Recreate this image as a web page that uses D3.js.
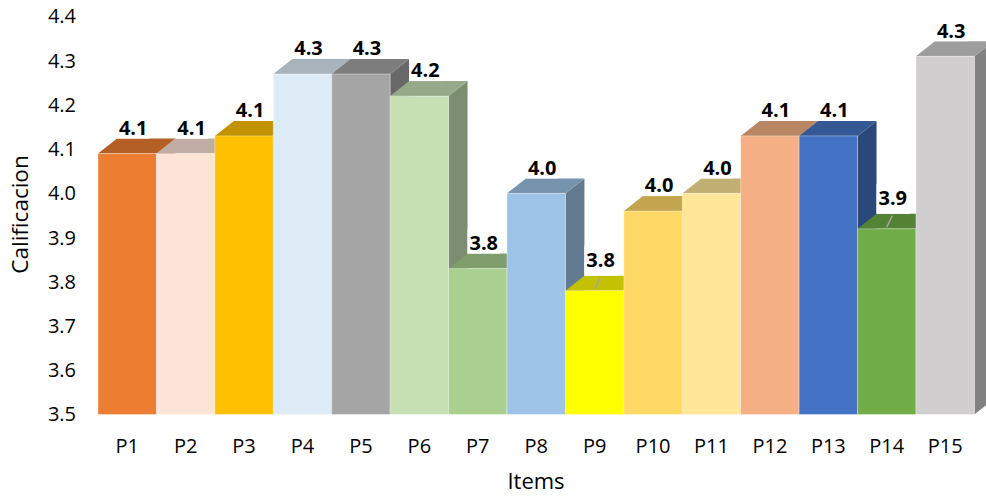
<!DOCTYPE html>
<html><head><meta charset="utf-8">
<script src="https://cdn.jsdelivr.net/npm/d3@7"></script>
<style>body{margin:0;background:#fff} svg{display:block}</style>
</head><body><svg id="c" width="986" height="497"></svg>
<script>
const categories = ["P1","P2","P3","P4","P5","P6","P7","P8","P9","P10","P11","P12","P13","P14","P15"];
const values = [4.09,4.09,4.13,4.27,4.27,4.22,3.83,4.00,3.78,3.96,4.00,4.13,4.13,3.92,4.31];
const colors = ["#ED7D31","#FCE4D6","#FFC000","#DDEBF7","#A5A5A5","#C6E0B4","#A9D08E","#9DC3E6","#FFFF00","#FFD966","#FFE699","#F4B084","#4472C4","#70AD47","#D0CECE"];
const yTicks = [3.5,3.6,3.7,3.8,3.9,4.0,4.1,4.2,4.3,4.4];
const leaderItems = ["P9","P14"];
const yTitle = "Calificacion";
const xTitle = "Items";

const svg = d3.select("#c");
const FONT = "'Open Sans', sans-serif";
const DX = 19, DY = 15;
const x = d3.scaleBand().domain(categories).range([98, 974.4]).padding(0);
const y = d3.scaleLinear().domain([3.5, 4.4]).range([414.5, 16.5]);
const base = y(3.5);

const shade = (c, k) => { const r = d3.rgb(c); return d3.rgb(r.r*k, r.g*k, r.b*k).formatHex(); };

const data = categories.map((c, i) => ({cat: c, v: values[i], col: colors[i]}));
const bars = svg.append("g");
data.forEach(d => {
  const xl = x(d.cat), xr = xl + x.bandwidth(), yt = y(d.v);
  const g = bars.append("g");
  g.append("polygon")
    .attr("points", [[xr, yt],[xr+DX, yt-DY],[xr+DX, base-DY],[xr, base]].map(p=>p.join(",")).join(" "))
    .attr("fill", shade(d.col, 0.63));
  g.append("polygon")
    .attr("points", [[xl, yt],[xl+DX, yt-DY],[xr+DX, yt-DY],[xr, yt]].map(p=>p.join(",")).join(" "))
    .attr("fill", shade(d.col, 0.76));
  g.append("rect")
    .attr("x", xl).attr("y", yt).attr("width", x.bandwidth()).attr("height", base - yt)
    .attr("fill", d.col)
    .attr("stroke", "#ffffff").attr("stroke-opacity", 0.35).attr("stroke-width", 1);
});

// labels
const labels = svg.append("g");
data.forEach(d => {
  const cx = x(d.cat) + x.bandwidth()/2;
  const yt = y(d.v);
  const backTop = yt - DY;
  const lead = leaderItems.includes(d.cat);
  const baseline = lead ? backTop - 9 : backTop - 3.7;
  const g = labels.append("g");
  const rect = g.append("rect").attr("fill", "#fff");
  const t = g.append("text")
    .attr("x", cx + 6).attr("y", baseline)
    .attr("text-anchor", "middle")
    .attr("font-family", FONT).attr("font-weight", "bold").attr("font-size", 20)
    .attr("fill", "#000")
    .text(d.v.toFixed(1));
  const bb = t.node().getBBox();
  rect.attr("x", bb.x - 2).attr("y", bb.y).attr("width", bb.width + 4)
      .attr("height", Math.max(0, backTop - bb.y));
  if (lead) {
    g.append("line")
      .attr("x1", cx + 5.5).attr("y1", backTop + 2)
      .attr("x2", cx).attr("y2", yt - 1.5)
      .attr("stroke", "#a6a6a6").attr("stroke-width", 1.5);
  }
});

// axes
const yAxis = svg.append("g").attr("transform", "translate(82,0)")
  .call(d3.axisLeft(y).tickValues(yTicks).tickFormat(d3.format(".1f")).tickSize(0).tickPadding(6));
yAxis.select(".domain").remove();
yAxis.selectAll("text").attr("font-family", FONT).attr("font-size", 20).attr("fill", "#000");

const xAxis = svg.append("g").attr("transform", `translate(0,${base})`)
  .call(d3.axisBottom(x).tickSize(0).tickPadding(24));
xAxis.select(".domain").remove();
xAxis.selectAll("text").attr("font-family", FONT).attr("font-size", 20).attr("fill", "#000");

svg.append("text")
  .attr("transform", "translate(28,214.5) rotate(-90)")
  .attr("text-anchor", "middle")
  .attr("font-family", FONT).attr("font-size", 22.5).attr("fill", "#000")
  .text(yTitle);
svg.append("text")
  .attr("x", 536).attr("y", 489)
  .attr("text-anchor", "middle")
  .attr("font-family", FONT).attr("font-size", 22).attr("fill", "#000")
  .text(xTitle);
</script>
</body></html>
